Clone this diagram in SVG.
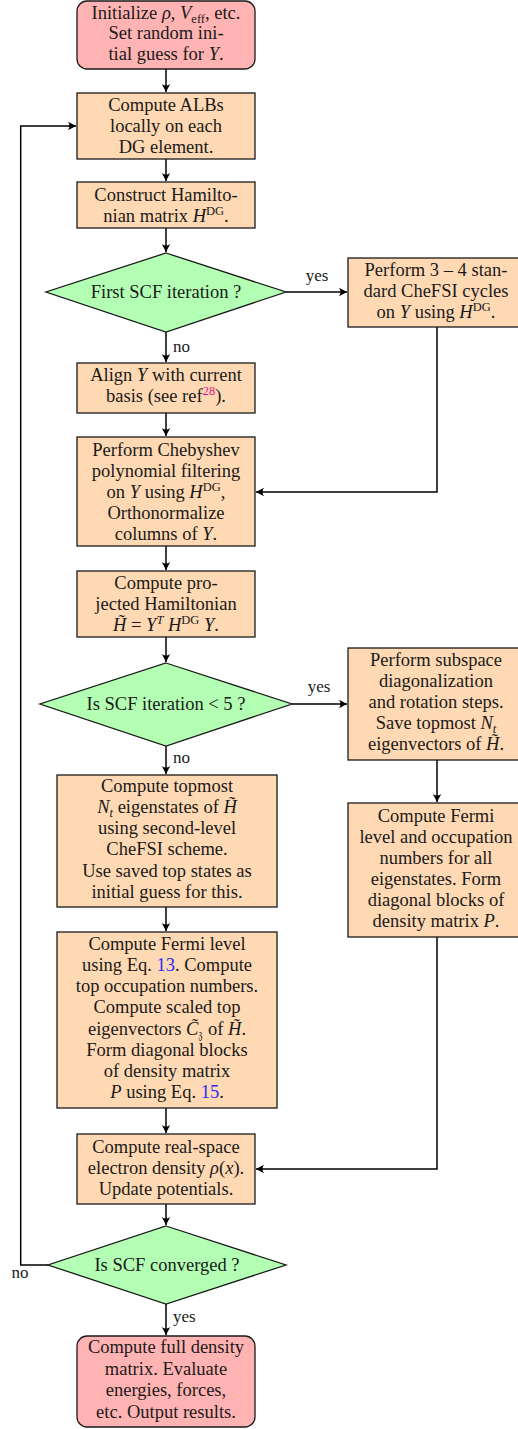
<svg xmlns="http://www.w3.org/2000/svg" width="518" height="1429" viewBox="0 0 518 1429">
<defs>
<style>
text{font-family:"Liberation Serif","DejaVu Serif",serif;font-size:18.5px;fill:#1a1a1a;text-anchor:middle}
.lbl{font-size:17px}
.st{text-anchor:start}
.m{font-style:italic}
.sup{font-size:12.5px}
.proc{fill:#ffd9b3;stroke:#1a1a1a;stroke-width:1.3}
.term{fill:#ffb3b3;stroke:#1a1a1a;stroke-width:1.3}
.dec{fill:#b3ffb3;stroke:#1a1a1a;stroke-width:1.3}
.c{fill:none;stroke:#000;stroke-width:1.5}
.ref{fill:#e8178a}
.eq{fill:#2a2aff}
</style>
<marker id="ah" markerUnits="userSpaceOnUse" markerWidth="12" markerHeight="12" viewBox="-9 -6 12 12" refX="0" refY="0" orient="auto">
<path d="M0,0 L-8,-4.2 Q-5,0 -8,4.2 Z" fill="#000"/>
</marker>
</defs>
<rect width="518" height="1429" fill="#fff"/>

<g id="connectors">
<path class="c" d="M166,69 V92" marker-end="url(#ah)"/>
<path class="c" d="M166,159 V181" marker-end="url(#ah)"/>
<path class="c" d="M166,228 V252" marker-end="url(#ah)"/>
<path class="c" d="M286,292 H347" marker-end="url(#ah)"/>
<path class="c" d="M166,332 V362" marker-end="url(#ah)"/>
<path class="c" d="M166,413 V436" marker-end="url(#ah)"/>
<path class="c" d="M437,327 V492 H256" marker-end="url(#ah)"/>
<path class="c" d="M166,546 V570" marker-end="url(#ah)"/>
<path class="c" d="M166,637 V662" marker-end="url(#ah)"/>
<path class="c" d="M292,704 H347" marker-end="url(#ah)"/>
<path class="c" d="M166,746 V774" marker-end="url(#ah)"/>
<path class="c" d="M437,760 V802" marker-end="url(#ah)"/>
<path class="c" d="M166,907 V931" marker-end="url(#ah)"/>
<path class="c" d="M437,937 V1169 H256" marker-end="url(#ah)"/>
<path class="c" d="M166,1108 V1133" marker-end="url(#ah)"/>
<path class="c" d="M166,1204 V1225" marker-end="url(#ah)"/>
<path class="c" d="M48,1265 H20.7 V126 H76" marker-end="url(#ah)"/>
<path class="c" d="M166,1304 V1335" marker-end="url(#ah)"/>
<text class="lbl" x="317" y="281">yes</text>
<text class="lbl st" x="173" y="352">no</text>
<text class="lbl" x="319" y="692">yes</text>
<text class="lbl st" x="173" y="763">no</text>
<text class="lbl" x="20" y="1278">no</text>
<text class="lbl st" x="173" y="1322">yes</text>
</g>

<g id="init">
<rect class="term" x="77" y="1" width="178" height="68" rx="10"/>
<text x="166" y="18.5">Initialize <tspan class="m">ρ</tspan>, <tspan class="m">V</tspan><tspan class="sup" dy="4">eff</tspan><tspan dy="-4">, etc.</tspan></text>
<text x="166" y="39">Set random ini-</text>
<text x="166" y="60">tial guess for <tspan class="m">Y</tspan>.</text>
</g>

<g id="albs">
<rect class="proc" x="77" y="93" width="178" height="66"/>
<text x="166" y="111">Compute ALBs</text>
<text x="166" y="132">locally on each</text>
<text x="166" y="153">DG element.</text>
</g>

<g id="hamiltonian">
<rect class="proc" x="77" y="182" width="178" height="46"/>
<text x="166" y="201">Construct Hamilto-</text>
<text x="166" y="222">nian matrix <tspan class="m">H</tspan><tspan class="sup" dy="-7">DG</tspan><tspan dy="7">.</tspan></text>
</g>

<g id="first-scf">
<polygon class="dec" points="166,253 286,292 166,332 46,292"/>
<text x="166" y="298">First SCF iteration ?</text>
</g>

<g id="chefsi-cycles">
<rect class="proc" x="348" y="258" width="180" height="69"/>
<text x="436" y="276">Perform 3 – 4 stan-</text>
<text x="436" y="297">dard CheFSI cycles</text>
<text x="436" y="318">on <tspan class="m">Y</tspan> using <tspan class="m">H</tspan><tspan class="sup" dy="-7">DG</tspan><tspan dy="7">.</tspan></text>
</g>

<g id="align">
<rect class="proc" x="77" y="363" width="178" height="50"/>
<text x="166" y="381">Align <tspan class="m">Y</tspan> with current</text>
<text x="166" y="402">basis (see ref<tspan class="sup ref" dy="-7">28</tspan><tspan dy="7">).</tspan></text>
</g>

<g id="chebyshev">
<rect class="proc" x="77" y="437" width="178" height="109"/>
<text x="166" y="456">Perform Chebyshev</text>
<text x="166" y="477">polynomial filtering</text>
<text x="166" y="498">on <tspan class="m">Y</tspan> using <tspan class="m">H</tspan><tspan class="sup" dy="-7">DG</tspan><tspan dy="7">,</tspan></text>
<text x="166" y="519">Orthonormalize</text>
<text x="166" y="540">columns of <tspan class="m">Y</tspan>.</text>
</g>

<g id="projected">
<rect class="proc" x="77" y="571" width="178" height="66"/>
<text x="166" y="589">Compute pro-</text>
<text x="166" y="610">jected Hamiltonian</text>
<text x="166" y="631"><tspan class="m">H̃</tspan> = <tspan class="m">Y</tspan><tspan class="sup m" dy="-7">T</tspan><tspan dy="7"> </tspan><tspan class="m">H</tspan><tspan class="sup" dy="-7">DG</tspan><tspan class="m" dy="7"> Y</tspan>.</text>
</g>

<g id="scf-lt-5">
<polygon class="dec" points="166,663 292,704 166,746 40,704"/>
<text x="166" y="710">Is SCF iteration &lt; 5 ?</text>
</g>

<g id="subspace">
<rect class="proc" x="348" y="648" width="180" height="112"/>
<text x="436" y="666">Perform subspace</text>
<text x="436" y="687">diagonalization</text>
<text x="436" y="708">and rotation steps.</text>
<text x="436" y="729">Save topmost <tspan class="m">N</tspan><tspan class="sup m" dy="4">t</tspan></text>
<text x="436" y="750">eigenvectors of <tspan class="m">H̃</tspan>.</text>
</g>

<g id="topmost">
<rect class="proc" x="57" y="775" width="220" height="132"/>
<text x="167" y="792">Compute topmost</text>
<text x="167" y="813"><tspan class="m">N</tspan><tspan class="sup m" dy="4">t</tspan><tspan dy="-4"> eigenstates of </tspan><tspan class="m">H̃</tspan></text>
<text x="167" y="834">using second-level</text>
<text x="167" y="855">CheFSI scheme.</text>
<text x="167" y="877">Use saved top states as</text>
<text x="167" y="898">initial guess for this.</text>
</g>

<g id="fermi-all">
<rect class="proc" x="348" y="803" width="180" height="134"/>
<text x="436" y="822">Compute Fermi</text>
<text x="436" y="843">level and occupation</text>
<text x="436" y="864">numbers for all</text>
<text x="436" y="885">eigenstates. Form</text>
<text x="436" y="906">diagonal blocks of</text>
<text x="436" y="927">density matrix <tspan class="m">P</tspan>.</text>
</g>

<g id="fermi-top">
<rect class="proc" x="57" y="932" width="220" height="176"/>
<text x="167" y="950">Compute Fermi level</text>
<text x="167" y="971">using Eq. <tspan class="eq">13</tspan>. Compute</text>
<text x="167" y="992">top occupation numbers.</text>
<text x="167" y="1013">Compute scaled top</text>
<text x="167" y="1035">eigenvectors <tspan class="m">C̃</tspan><tspan class="sup" dy="4">𝔷</tspan><tspan dy="-4"> of </tspan><tspan class="m">H̃</tspan>.</text>
<text x="167" y="1056">Form diagonal blocks</text>
<text x="167" y="1077">of density matrix</text>
<text x="167" y="1098"><tspan class="m">P</tspan> using Eq. <tspan class="eq">15</tspan>.</text>
</g>

<g id="density">
<rect class="proc" x="77" y="1134" width="178" height="70"/>
<text x="166" y="1153">Compute real-space</text>
<text x="166" y="1174">electron density <tspan class="m">ρ</tspan>(<tspan class="m">x</tspan>).</text>
<text x="166" y="1195">Update potentials.</text>
</g>

<g id="converged">
<polygon class="dec" points="166,1226 286,1265 166,1304 48,1265"/>
<text x="167" y="1271">Is SCF converged ?</text>
</g>

<g id="final">
<rect class="term" x="77" y="1336" width="178" height="91" rx="10"/>
<text x="166" y="1353">Compute full density</text>
<text x="166" y="1375">matrix. Evaluate</text>
<text x="166" y="1396">energies, forces,</text>
<text x="166" y="1418">etc. Output results.</text>
</g>
</svg>
